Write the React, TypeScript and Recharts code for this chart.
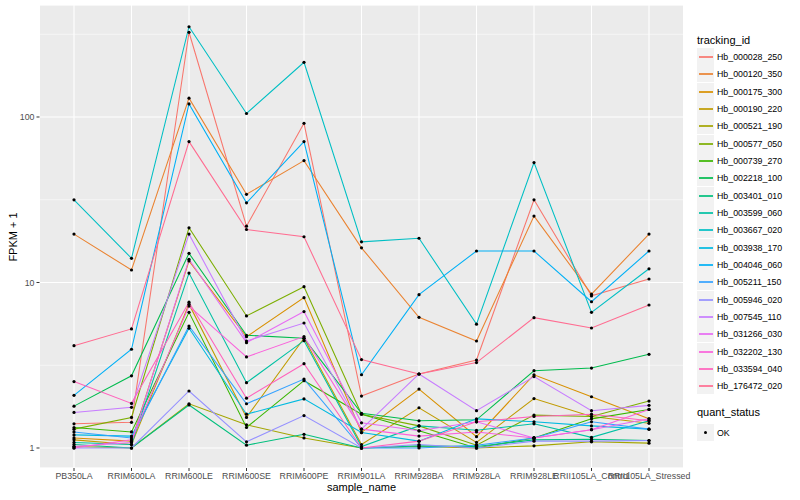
import React from 'react';
import { LineChart, Line, XAxis, YAxis, CartesianGrid } from 'recharts';

const categories = ['PB350LA', 'RRIM600LA', 'RRIM600LE', 'RRIM600SE', 'RRIM600PE', 'RRIM901LA', 'RRIM928BA', 'RRIM928LA', 'RRIM928LE', 'RRII105LA_Control', 'RRII105LA_Stressed'];

const trackingIds = ['Hb_000028_250', 'Hb_000120_350', 'Hb_000175_300', 'Hb_000190_220', 'Hb_000521_190', 'Hb_000577_050', 'Hb_000739_270', 'Hb_002218_100', 'Hb_003401_010', 'Hb_003599_060', 'Hb_003667_020', 'Hb_003938_170', 'Hb_004046_060', 'Hb_005211_150', 'Hb_005946_020', 'Hb_007545_110', 'Hb_031266_030', 'Hb_032202_130', 'Hb_033594_040', 'Hb_176472_020'];

const colors = ['#F8766D', '#EA8331', '#D89000', '#C09B00', '#A3A500', '#7CAE00', '#39B600', '#00BB4E', '#00BF7D', '#00C1A3', '#00BFC4', '#00BAE0', '#00B0F6', '#35A2FF', '#9590FF', '#C77CFF', '#E76BF3', '#FA62DB', '#FF62BC', '#FF6C91'];

const hb000028_250 = [1.4, 1.43, 325, 21.9, 91.6, 2.06, 2.8, 3.4, 31.6, 8.3, 10.5];
const hb000120_350 = [19.6, 11.9, 130, 34.1, 54.5, 16.2, 6.16, 4.43, 25.2, 8.5, 19.6];
const hb000175_300 = [1.15, 1.1, 13.5, 4.7, 8.1, 1.24, 2.27, 1.17, 2.77, 2.04, 1.5];
const hb000190_220 = [1.12, 1.05, 7.4, 1.53, 4.6, 1.05, 1.75, 1.08, 1.99, 1.55, 1.41];
const hb000521_190 = [1.02, 1.0, 1.85, 1.38, 1.15, 1.0, 1.02, 1.0, 1.03, 1.09, 1.07];
const hb000577_050 = [1.3, 1.53, 21.4, 6.28, 9.43, 1.6, 1.36, 1.04, 1.58, 1.55, 1.92];
const hb000739_270 = [1.33, 1.25, 6.6, 1.33, 2.55, 1.6, 1.27, 1.0, 1.15, 1.5, 1.71];
const hb002218_100 = [1.79, 2.73, 15.0, 4.8, 4.6, 1.62, 1.46, 1.48, 2.93, 3.04, 3.68];
const hb003401_010 = [1.05, 1.0, 1.82, 1.04, 1.21, 1.0, 1.03, 1.02, 1.12, 1.13, 1.11];
const hb003599_060 = [1.08, 1.05, 11.4, 2.48, 4.45, 1.02, 1.36, 1.28, 1.4, 1.16, 1.46];
const hb003667_020 = [31.6, 14, 351, 105, 214, 17.6, 18.5, 5.6, 53, 6.6, 12.1];
const hb003938_170 = [1.2, 1.18, 5.29, 1.6, 1.98, 1.24, 1.1, 1.5, 1.44, 1.36, 1.3];
const hb004046_060 = [2.08, 3.95, 120, 30.3, 71, 2.77, 8.44, 15.5, 15.5, 7.65, 15.5];
const hb005211_150 = [1.25, 1.15, 5.46, 1.85, 2.61, 1.0, 1.0, 1.04, 1.15, 1.44, 1.3];
const hb005946_020 = [1.0, 1.0, 2.21, 1.09, 1.57, 1.0, 1.05, 1.0, 1.1, 1.1, 1.11];
const hb007545_110 = [1.64, 1.76, 19.6, 4.43, 5.69, 1.3, 2.8, 1.68, 2.7, 1.68, 1.81];
const hb031266_030 = [1.02, 1.08, 13.8, 4.33, 6.67, 1.42, 1.27, 1.44, 1.15, 1.29, 1.5];
const hb032202_130 = [1.0, 1.12, 7.2, 3.55, 4.71, 1.3, 1.18, 1.25, 1.15, 1.29, 1.71];
const hb033594_040 = [2.52, 1.86, 7.6, 2.0, 3.23, 1.0, 1.1, 1.44, 1.55, 1.6, 1.46];
const hb176472_020 = [4.15, 5.24, 71, 20.9, 18.9, 3.42, 2.8, 3.28, 6.13, 5.31, 7.31];

const seriesValues = [hb000028_250, hb000120_350, hb000175_300, hb000190_220, hb000521_190, hb000577_050, hb000739_270, hb002218_100, hb003401_010, hb003599_060, hb003667_020, hb003938_170, hb004046_060, hb005211_150, hb005946_020, hb007545_110, hb031266_030, hb032202_130, hb033594_040, hb176472_020];

const yTicks = [1, 10, 100];
const yMinorTicks = [3.1623, 31.623, 316.23];
const yDomain = [0.757, 475];

const data = categories.map((c, i) => {
  const row: any = { sample: c };
  trackingIds.forEach((id, k) => { row[id] = seriesValues[k][i]; });
  return row;
});

const FONT = '"Liberation Sans", Arial, Helvetica, sans-serif';

export default function App() {
  return (
    <div style={{ position: 'relative', width: 800, height: 500, fontFamily: FONT, background: '#fff' }}>
      <style>{'body{margin:0}'}</style>
      <LineChart width={800} height={500} data={data} margin={{ top: 5, right: 116.5, bottom: 0, left: 0 }}>
        <CartesianGrid fill="#EBEBEB" fillOpacity={1} stroke="#FFFFFF" strokeWidth={1.07} strokeDasharray="" />
        <CartesianGrid yAxisId="minor" vertical={false} stroke="#FFFFFF" strokeWidth={0.53} strokeDasharray="" />
        <XAxis dataKey="sample" type="category" interval={0} height={32} padding={{ left: 34.5, right: 34.5 }}
          axisLine={false} tickSize={3} tickMargin={2} tickLine={{ stroke: '#333333' }}
          tick={{ fill: '#4D4D4D', fontSize: 8.8, fontFamily: FONT }} />
        <YAxis scale="log" domain={yDomain} allowDataOverflow ticks={yTicks} width={39.5}
          axisLine={false} tickSize={3} tickMargin={2} tickLine={{ stroke: '#333333' }}
          tick={{ fill: '#4D4D4D', fontSize: 8.8, fontFamily: FONT }} />
        <YAxis yAxisId="minor" hide scale="log" domain={yDomain} allowDataOverflow ticks={yMinorTicks} />
        {trackingIds.map((id, k) => (
          <Line key={id} dataKey={id} stroke={colors[k]} strokeWidth={1.07} dot={false} activeDot={false}
            isAnimationActive={false} type="linear" legendType="none" />
        ))}
        {trackingIds.map((id) => (
          <Line key={id + '_pt'} dataKey={id} stroke="none" activeDot={false}
            dot={{ r: 1.6, fill: '#000000', stroke: 'none' }} isAnimationActive={false} legendType="none" />
        ))}
      </LineChart>

      <div style={{ position: 'absolute', left: 5, top: 237, transform: 'translate(-50%,-50%) rotate(-90deg)', transformOrigin: 'center', fontSize: 11, color: '#000', whiteSpace: 'nowrap', marginLeft: 8 }}>FPKM + 1</div>
      <div style={{ position: 'absolute', left: 361.5, top: 487, transform: 'translate(-50%,-50%)', fontSize: 11, color: '#000', whiteSpace: 'nowrap' }}>sample_name</div>

      <div style={{ position: 'absolute', left: 697, top: 34, fontSize: 11, lineHeight: '13px', color: '#000', whiteSpace: 'nowrap' }}>tracking_id</div>
      {trackingIds.map((id, k) => (
        <div key={id} style={{ position: 'absolute', left: 697, top: Math.round(48 + k * 17.33), height: 17, display: 'flex', alignItems: 'center', whiteSpace: 'nowrap' }}>
          <div style={{ width: 17, height: 17, background: '#F2F2F2', position: 'relative' }}>
            <div style={{ position: 'absolute', left: 1.5, width: 14, top: 7.5, height: 2, background: colors[k], opacity: 0.85 }} />
          </div>
          <span style={{ marginLeft: 3, fontSize: 8.8, color: '#000' }}>{id}</span>
        </div>
      ))}

      <div style={{ position: 'absolute', left: 697, top: 406, fontSize: 11, lineHeight: '13px', color: '#000', whiteSpace: 'nowrap' }}>quant_status</div>
      <div style={{ position: 'absolute', left: 697, top: 424, height: 17, display: 'flex', alignItems: 'center', whiteSpace: 'nowrap' }}>
        <div style={{ width: 17, height: 17, background: '#F2F2F2', position: 'relative' }}>
          <div style={{ position: 'absolute', left: 7, top: 7, width: 3, height: 3, borderRadius: '50%', background: '#000' }} />
        </div>
        <span style={{ marginLeft: 3, fontSize: 8.8, color: '#000' }}>OK</span>
      </div>
    </div>
  );
}
